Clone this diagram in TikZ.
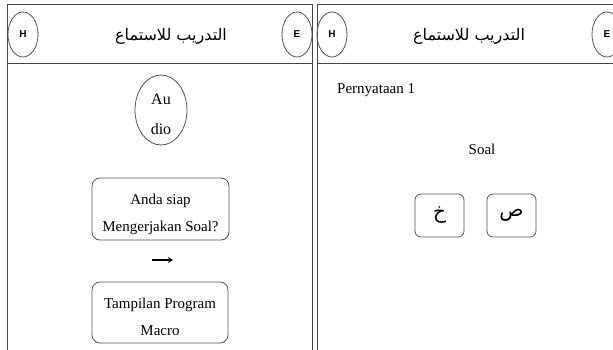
\documentclass[tikz,border=0pt]{standalone}
\usepackage{fontspec}
\setmainfont{Liberation Serif}
\newfontfamily\arabicfont[Script=Arabic]{DejaVu Sans}
\newfontfamily\labfont{Liberation Sans}
\TeXXeTstate=1
\usetikzlibrary{shapes.geometric,arrows.meta}
\definecolor{frameline}{HTML}{444444}
\definecolor{boxline}{HTML}{555555}
\tikzset{
  frameedge/.style={draw=frameline, line width=1pt},
  hebtn/.style={draw=boxline, ellipse, line width=0.8pt, minimum width=30, minimum height=45, inner sep=0pt, font=\labfont\bfseries\fontsize{10}{12}\selectfont},
  titletext/.style={font=\arabicfont\fontsize{16}{18}\selectfont},
  roundbox/.style={draw=boxline, rounded corners=8pt, line width=0.8pt, align=center, inner sep=0pt, font=\fontsize{15}{27}\selectfont},
  letterbox/.style={draw=boxline, rounded corners=6pt, line width=0.8pt, minimum width=49, minimum height=43, inner sep=0pt, font=\arabicfont\fontsize{20}{22}\selectfont},
  plaintext/.style={font=\fontsize{15}{17}\selectfont},
}
\begin{document}
\begin{tikzpicture}[x=1pt,y=-1pt]
\useasboundingbox (0,0) rectangle (613,350);
\clip (0,0) rectangle (613,350);
% left panel
\draw[frameedge] (7,352) -- (7,5) -- (312,5) -- (312,352);
\draw[frameedge] (7,64) -- (312,64);
\node[hebtn] (h1) at (23,34.5) {H};
\node[hebtn] (e1) at (297,34.5) {E};
\node[titletext] (t1) at (171,36) {\beginR التدريب للاستماع\endR};
\node[draw=boxline, ellipse, line width=0.8pt, minimum width=52, minimum height=70, inner sep=0pt] (audio) at (161,110) {};
\node[align=center, inner sep=0pt, font=\fontsize{16}{30}\selectfont] (audiotxt) at (161,114) {Au\\dio};
\node[roundbox, minimum width=137, minimum height=62] (siap) at (160.5,209) {\rule{0pt}{22pt}Anda siap\\Mengerjakan Soal?};
\coordinate (arrs) at (152,260);
\coordinate (arre) at (173,260);
\draw[line width=1.8pt, -{Stealth[length=5pt,width=6pt]}] (arrs) -- (arre);
\node[roundbox, minimum width=136, minimum height=61] (macro) at (160,312.5) {\rule{0pt}{19pt}Tampilan Program\\Macro};
% right panel
\draw[frameedge] (317,352) -- (317,5) -- (615,5);
\draw[frameedge] (317,64) -- (615,64);
\node[hebtn] (h2) at (332,34.5) {H};
\node[hebtn] (e2) at (607,34.5) {E};
\node[titletext] (t2) at (469,36) {\beginR التدريب للاستماع\endR};
\node[plaintext, anchor=west, inner sep=0pt] (pern) at (337,90) {Pernyataan 1};
\node[plaintext] (soal) at (482,149) {Soal};
\node[letterbox] (kha) at (439.5,215.5) {\beginR خ\endR};
\node[letterbox] (sad) at (511.5,215.5) {\beginR ص\endR};
\end{tikzpicture}
\end{document}
